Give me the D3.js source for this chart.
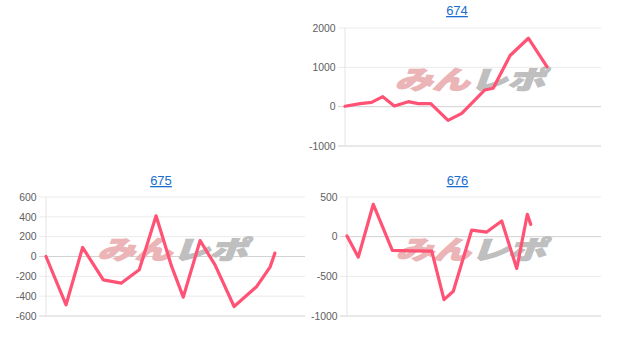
<!DOCTYPE html>
<html>
<head>
<meta charset="utf-8">
<title>674 675 676</title>
<script src="https://d3js.org/d3.v7.min.js"></script>
<style>
body {
  margin: 0;
  padding: 0;
  background: #fff;
}
svg text {
  font-family: Arial, "Liberation Sans", Helvetica, sans-serif;
}
</style>
</head>
<body>
<svg id="chart" width="617" height="342"></svg>
<script>

// machine numbers (titles)
var titles = ["674", "675", "676"];

// games played (x) and coin difference (y) per machine
var games674 = [0, 470, 830, 1180, 1540, 1980, 2290, 2680, 3220, 3650, 4370, 4630, 5160, 5730, 6310];
var diff674  = [10, 76, 110, 255, 18, 127, 76, 76, -350, -170, 425, 468, 1300, 1740, 1020];

var games675 = [0, 620, 1130, 1770, 2320, 2880, 3400, 3880, 4240, 4760, 5220, 5810, 6510, 6920, 7070];
var diff675  = [0, -487, 91, -235, -269, -134, 410, -100, -410, 161, -85, -504, -302, -107, 34];

var games676 = [0, 356, 828, 1427, 2047, 2668, 3056, 3348, 3928, 4400, 4873, 5346, 5680, 5787];
var diff676  = [8, -258, 408, -173, -178, -182, -793, -688, 83, 58, 197, -401, 282, 155];

// y tick labels
var ticks674 = [-1000, 0, 1000, 2000];
var ticks675 = [-600, -400, -200, 0, 200, 400, 600];
var ticks676 = [-1000, -500, 0, 500];

var gameMax = 8000;

var charts = [
  {title: titles[0], games: games674, diff: diff674, ticks: ticks674,
   box: {left: 345, right: 601, top: 28, bottom: 146, tx: 457, ty: 15}},
  {title: titles[1], games: games675, diff: diff675, ticks: ticks675,
   box: {left: 46, right: 305, top: 197, bottom: 316, tx: 161, ty: 185}},
  {title: titles[2], games: games676, diff: diff676, ticks: ticks676,
   box: {left: 347, right: 601, top: 197, bottom: 316, tx: 457.5, ty: 185}}
];

var svg = d3.select("#chart");

charts.forEach(function(c) {
  var b = c.box;
  var g = svg.append("g");

  var x = d3.scaleLinear().domain([0, gameMax]).range([b.left, b.right]);
  var y = d3.scaleLinear()
    .domain([d3.min(c.ticks), d3.max(c.ticks)])
    .range([b.bottom, b.top]);

  // title (link style)
  g.append("text")
    .attr("x", b.tx)
    .attr("y", b.ty)
    .attr("text-anchor", "middle")
    .attr("fill", "#1a6ed0")
    .style("font-size", "13px")
    .style("text-decoration", "underline")
    .text(c.title);

  // grid lines
  g.selectAll(".grid")
    .data(c.ticks)
    .enter()
    .append("line")
    .attr("x1", b.left - 7)
    .attr("x2", b.right)
    .attr("y1", function(d) { return y(d); })
    .attr("y2", function(d) { return y(d); })
    .attr("stroke", function(d) {
      return (d === 0 || d === d3.min(c.ticks)) ? "#d2d2d2" : "#ebebeb";
    })
    .attr("stroke-width", 1);

  // left axis line
  g.append("line")
    .attr("x1", b.left).attr("x2", b.left)
    .attr("y1", b.top).attr("y2", b.bottom)
    .attr("stroke", "#e3e3e3");

  // y labels
  g.selectAll(".lbl")
    .data(c.ticks)
    .enter()
    .append("text")
    .attr("x", b.left - 9.5)
    .attr("y", function(d) { return y(d); })
    .attr("dy", "0.36em")
    .attr("text-anchor", "end")
    .attr("fill", "#606060")
    .style("font-size", "10.4px")
    .text(function(d) { return d; });

  // watermark
  var cx = (b.left + b.right) / 2;
  var cy = (b.top + b.bottom) / 2 - 7;
  var wm = g.append("g")
    .attr("transform", "translate(" + cx + "," + cy + ") scale(1.25,0.85) skewX(-14)");
  var wt = wm.append("text")
    .attr("text-anchor", "middle")
    .attr("dy", "0.36em")
    .style("font-family", "'Noto Sans CJK JP', sans-serif")
    .style("font-weight", "900")
    .style("font-size", "30px")
    .attr("stroke-width", 1.5);
  wt.append("tspan").attr("fill", "#ebb5b7").attr("stroke", "#ebb5b7").text("みん");
  wt.append("tspan").attr("fill", "#bfbfbf").attr("stroke", "#bfbfbf").text("レポ");

  // data line
  var pts = c.games.map(function(v, i) { return [v, c.diff[i]]; });
  var line = d3.line()
    .x(function(d) { return x(d[0]); })
    .y(function(d) { return y(d[1]); });

  g.append("path")
    .datum(pts)
    .attr("d", line)
    .attr("fill", "none")
    .attr("stroke", "#ff5274")
    .attr("stroke-width", 3.2)
    .attr("stroke-linejoin", "round")
    .attr("stroke-linecap", "round");
});

</script>
</body>
</html>
